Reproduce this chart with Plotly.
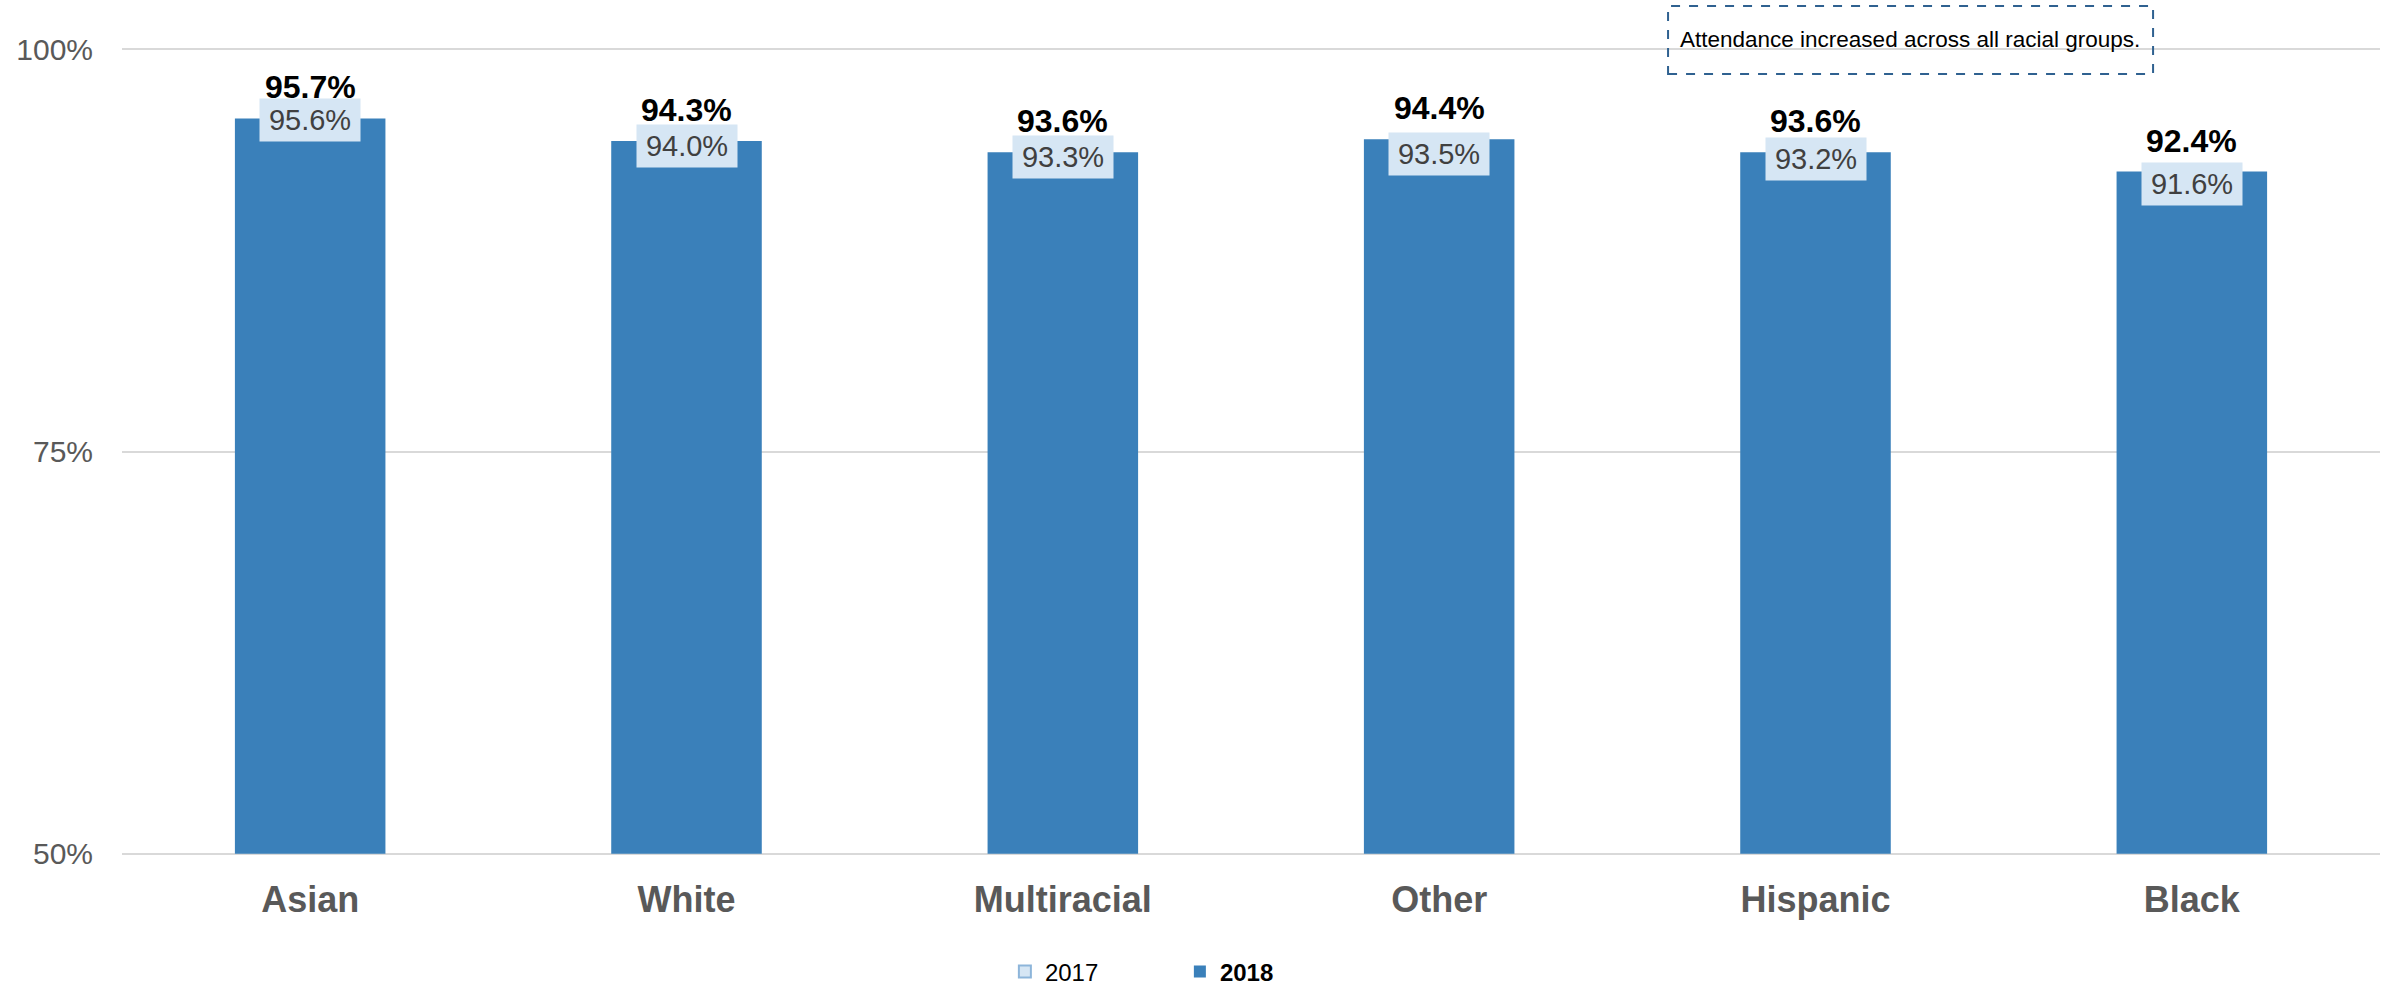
import plotly.graph_objects as go

categories = ["Asian", "White", "Multiracial", "Other", "Hispanic", "Black"]
values_2017 = [95.6, 94.0, 93.3, 93.5, 93.2, 91.6]
values_2018 = [95.7, 94.3, 93.6, 94.4, 93.6, 92.4]
y_ticks = [50, 75, 100]
y_tick_labels = ["50%", "75%", "100%"]
y_floor = 50
note_text = "Attendance increased across all racial groups."

BAR = "#3A80BA"
LIGHT = "#D6E6F4"
GREY = "#595959"
SANS = "Liberation Sans, Arial, sans-serif"

fig = go.Figure()
fig.add_trace(go.Bar(
    x=categories, y=[None] * len(categories), name="2017",
    marker=dict(color=LIGHT, line=dict(color="#8DB5DA", width=2)),
    hoverinfo="skip",
))
fig.add_trace(go.Bar(
    x=categories, y=[v - y_floor for v in values_2018], base=y_floor,
    name="<b>2018</b>",
    marker=dict(color=BAR, line=dict(width=0)),
    width=0.4,
    customdata=values_2018, hovertemplate="%{x}: %{customdata:.1f}%<extra></extra>",
))

for c, v in zip(categories, values_2018):
    fig.add_annotation(
        x=c, y=v, xref="x", yref="y", text=f"<b>{v:.1f}%</b>",
        showarrow=False, yanchor="bottom", yshift=11,
        font=dict(family=SANS, size=32, color="#000000"),
    )
for c, v in zip(categories, values_2017):
    fig.add_annotation(
        x=c, y=v, xref="x", yref="y", text=f"{v:.1f}%",
        showarrow=False, yanchor="middle", xanchor="center",
        width=98, height=40, bgcolor=LIGHT, borderpad=1,
        font=dict(family=SANS, size=29, color="#404040"),
    )

fig.add_shape(
    type="rect", xref="paper", yref="paper",
    x0=0.6847, x1=0.8995, y0=0.9655, y1=1.0493,
    line=dict(color="#2F6190", width=2, dash="dash"),
    fillcolor="rgba(0,0,0,0)",
)
fig.add_annotation(
    x=0.7918, y=1.0074, xref="paper", yref="paper", text=note_text,
    showarrow=False, xanchor="center", yanchor="middle",
    font=dict(family=SANS, size=22.5, color="#000000"),
)

fig.update_layout(
    width=2400, height=986,
    margin=dict(l=122, r=20, t=46, b=129, autoexpand=False),
    paper_bgcolor="white", plot_bgcolor="white",
    barmode="overlay",
    showlegend=True,
    legend=dict(
        orientation="h", x=0.391, xanchor="left",
        y=-0.1418, yanchor="middle",
        font=dict(family=SANS, size=24, color="#000000"),
        entrywidth=130, itemclick=False, itemdoubleclick=False,
    ),
    xaxis=dict(
        showgrid=False, showline=False, zeroline=False, automargin=False,
        tickfont=dict(family=SANS, size=36, color=GREY),
        tickprefix="<b>", ticksuffix="</b>",
        ticklabelstandoff=18,
    ),
    yaxis=dict(
        range=[49.8, 100.2], tickvals=y_ticks, ticktext=y_tick_labels,
        showgrid=True, gridcolor="#D9D9D9", gridwidth=2,
        zeroline=False, showline=False, automargin=False,
        tickfont=dict(family=SANS, size=30, color=GREY),
        ticklabelstandoff=28,
    ),
)

fig.write_html(
    "out.html",
    config={"displayModeBar": False},
    post_script="document.body.style.margin='0';",
)
